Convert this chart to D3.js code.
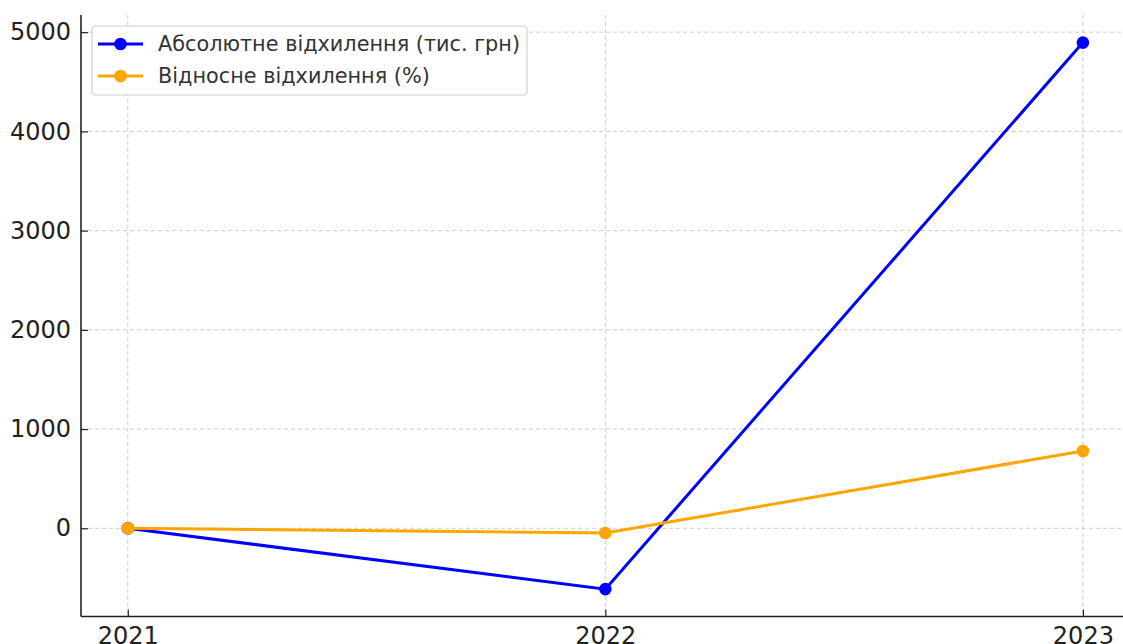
<!DOCTYPE html>
<html>
<head>
  <meta charset="utf-8">
  <script src="https://cdnjs.cloudflare.com/ajax/libs/d3/7.8.5/d3.min.js"></script>
  <style>
    body { margin: 0; background: #fff; }
    svg { font-family: "DejaVu Sans", sans-serif; }
  </style>
</head>
<body>
  <svg id="chart" width="1123" height="644"></svg>
  <script>
var years = [2021, 2022, 2023];
var absDev = [0, -613, 4895];   // тис. грн
var relDev = [0, -47, 779];     // %
var yTicks = [0, 1000, 2000, 3000, 4000, 5000];
var seriesNames = ["Абсолютне відхилення (тис. грн)", "Відносне відхилення (%)"];
var seriesColors = ["#0000ff", "#ffa500"];

var svg = d3.select("#chart");
var mLeft = 81, mRight = 1123, mTop = 15, mBottom = 616.5;

var x = d3.scaleLinear().domain([2020.902, 2023.084]).range([mLeft, mRight]);
var y = d3.scaleLinear().domain([-889, 5173]).range([mBottom, mTop]);

// grid
var grid = svg.append("g");
grid.selectAll(".gy").data(yTicks).enter().append("line")
    .attr("x1", mLeft).attr("x2", mRight)
    .attr("y1", function(d) { return y(d); }).attr("y2", function(d) { return y(d); })
    .attr("stroke", "#cccccc").attr("stroke-width", 1).attr("stroke-dasharray", "4,3");
grid.selectAll(".gx").data(years).enter().append("line")
    .attr("y1", mTop).attr("y2", mBottom)
    .attr("x1", function(d) { return x(d); }).attr("x2", function(d) { return x(d); })
    .attr("stroke", "#cccccc").attr("stroke-width", 1).attr("stroke-dasharray", "4,3");

// axes (ticks inward)
var xAxis = svg.append("g").attr("transform", "translate(0," + mBottom + ")")
    .call(d3.axisBottom(x).tickValues(years).tickFormat(d3.format("d")).tickSizeInner(-7).tickSizeOuter(0).tickPadding(10));
var yAxis = svg.append("g").attr("transform", "translate(" + mLeft + ",0)")
    .call(d3.axisLeft(y).tickValues(yTicks).tickFormat(d3.format("d")).tickSizeInner(-7).tickSizeOuter(0).tickPadding(10));

[xAxis, yAxis].forEach(function(a) {
  a.select(".domain").attr("stroke", "#222").attr("stroke-width", 1.6);
  a.selectAll(".tick line").attr("stroke", "#222").attr("stroke-width", 1.2);
  a.selectAll(".tick text").attr("fill", "#222").style("font-size", "24px").style("font-family", "DejaVu Sans");
});
xAxis.select(".domain").attr("d", "M" + mLeft + ",0H" + mRight);
yAxis.select(".domain").attr("d", "M0," + mTop + "V" + mBottom);
xAxis.selectAll(".tick text").attr("y", 6).attr("dy", "0.9em");

// lines (blue first, orange on top)
var series = [absDev, relDev];
var line = d3.line().x(function(d, i) { return x(years[i]); }).y(function(d) { return y(d); });

[0, 1].forEach(function(s) {
  svg.append("path").datum(series[s])
      .attr("d", line)
      .attr("fill", "none")
      .attr("stroke", seriesColors[s])
      .attr("stroke-width", 3);
  svg.selectAll(".pt" + s).data(series[s]).enter().append("circle")
      .attr("cx", function(d, i) { return x(years[i]); })
      .attr("cy", function(d) { return y(d); })
      .attr("r", 6.3)
      .attr("fill", seriesColors[s]);
});

// legend
var lg = svg.append("g").attr("transform", "translate(92,26)");
lg.append("rect").attr("width", 435).attr("height", 69).attr("rx", 4)
    .attr("fill", "#fff").attr("fill-opacity", 0.85)
    .attr("stroke", "#d0d0d0").attr("stroke-width", 1.2);
seriesNames.forEach(function(name, i) {
  var cy = 18 + i * 32;
  lg.append("line").attr("x1", 6).attr("x2", 51).attr("y1", cy).attr("y2", cy)
      .attr("stroke", seriesColors[i]).attr("stroke-width", 3);
  lg.append("circle").attr("cx", 28.5).attr("cy", cy).attr("r", 6.3).attr("fill", seriesColors[i]);
  lg.append("text").attr("x", 66).attr("y", cy).attr("dy", "0.35em")
      .attr("fill", "#333").style("font-size", "20.8px").text(name);
});
  </script>
</body>
</html>
